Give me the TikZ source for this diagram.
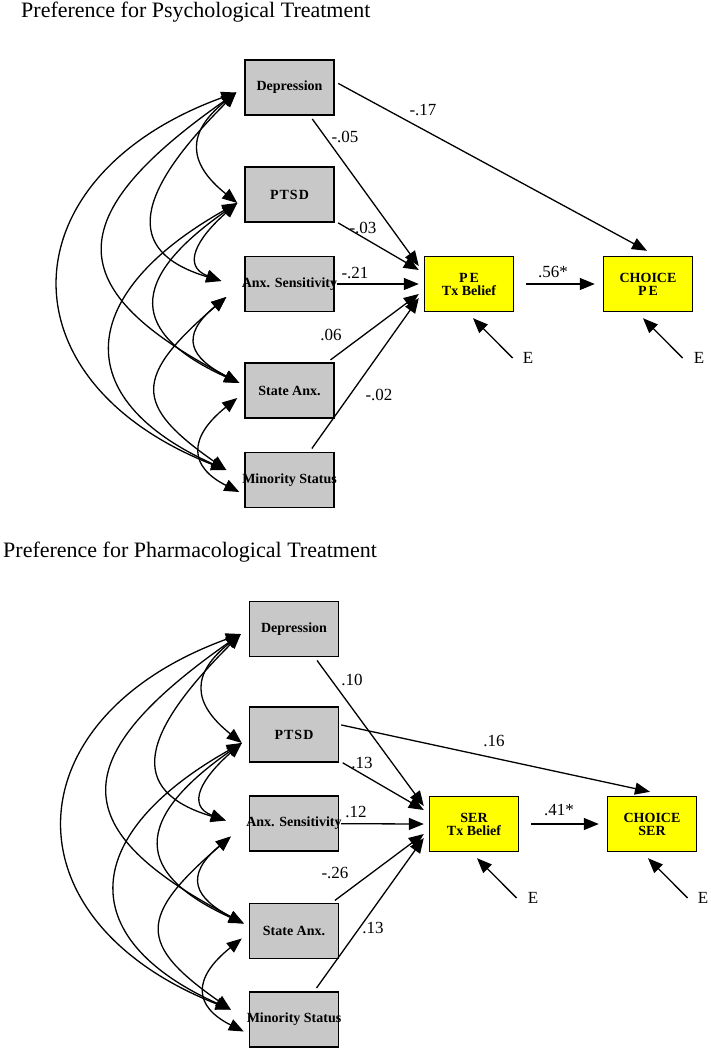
\documentclass[tikz,border=0pt]{standalone}
\usepackage{fontspec}
\setmainfont{Liberation Serif}
\usetikzlibrary{arrows.meta,calc}
\definecolor{boxgray}{RGB}{200,200,200}
\definecolor{boxyellow}{RGB}{255,255,0}
\newcommand\boxfont{\fontsize{14}{14}\selectfont\bfseries}
\newcommand\coeffont{\fontsize{17}{17}\selectfont}
\newcommand\efont{\fontsize{17}{17}\selectfont}
\newcommand\titlefont{\fontsize{22}{22}\selectfont}
\newcommand\lbl[1]{\makebox[0pt][c]{#1}}
% covariance block: #1 = prefix of node names
\newcommand\covblock[1]{%
  \coordinate (#1tD)  at ($(#1dep.west)+(-8,5)$);
  \coordinate (#1tP)  at ($(#1ptsd.west)+(-7,8.5)$);
  \coordinate (#1tA1) at ($(#1anx.west)+(-23,-3)$);
  \coordinate (#1tA2) at ($(#1anx.west)+(-18,13)$);
  \coordinate (#1tS1) at ($(#1sta.west)+(-5,-7.5)$);
  \coordinate (#1tS2) at ($(#1sta.west)+(-7,7.5)$);
  \coordinate (#1tM1) at ($(#1min.west)+(-18,-10)$);
  \coordinate (#1tM2) at ($(#1min.west)+(-5,12)$);
  \draw[cov] (#1tD) .. controls +(-50,40) and +(-50,-40) .. (#1tP);
  \draw[cov] (#1tD) .. controls +(-100,100) and +(-100,-30) .. (#1tA1);
  \draw[cov] (#1tD) .. controls +(-178,125) and +(-178,-93) .. (#1tS1);
  \draw[cov] (#1tD) .. controls +(-229,83) and +(-229,-90) .. (#1tM1);
  \draw[cov] (#1tP) .. controls +(-40,35) and +(-40,-15) .. (#1tA1);
  \draw[cov] (#1tP) .. controls +(-110,77) and +(-110,-50) .. (#1tS1);
  \draw[cov] (#1tP) .. controls +(-160,90) and +(-160,-72) .. (#1tM1);
  \draw[cov] (#1tA2) .. controls +(-48,40) and +(-48,-25) .. (#1tS1);
  \draw[cov] (#1tA2) .. controls +(-93,80) and +(-93,-65) .. (#1tM1);
  \draw[cov] (#1tS2) .. controls +(-50,40) and +(-50,-25) .. (#1tM2);
}
\begin{document}
\begin{tikzpicture}[x=1pt,y=-1pt,
  box/.style={draw=black, line width=1.4pt, fill=boxgray, minimum width=89pt,
    minimum height=55pt, inner sep=0pt, font=\boxfont},
  ybox/.style={box, fill=boxyellow, align=center},
  tip/.tip={Triangle[length=15pt,width=12pt]},
  arr/.style={-tip, line width=1.3pt},
  cov/.style={tip-tip, line width=1.3pt},
  coef/.style={font=\coeffont, inner sep=0pt},
  enode/.style={font=\efont, inner sep=0pt},
  title/.style={font=\titlefont, inner sep=0pt, anchor=base west}]
\useasboundingbox (0,0) rectangle (711,1050);

% ---------------- top: psychological ----------------
\node[title] (ptitle) at (21,17) {Preference for Psychological Treatment};
\node[box] (pdep)  at (289.5,87.5) {\lbl{Depression}};
\node[box] (pptsd) at (289.5,194.5) {\lbl{P\kern1pt T\kern1pt S\kern1pt D}};
\node[box] (panx)  at (289.5,284) {\lbl{Anx. Sensitivity}};
\node[box] (psta)  at (289.5,390.5) {\lbl{State Anx.}};
\node[box] (pmin)  at (289.5,480) {\lbl{Minority Status}};
\node[ybox] (ppe)  at (469,284) {P\kern2pt E\\[-1pt]Tx Belief};
\node[ybox] (pch)  at (648,284) {CHOICE\\[-1pt]P\kern2pt E};
\node[enode] (pe1) at (528,358) {E};
\node[enode] (pe2) at (699,358) {E};

\draw[arr, shorten <=4pt] (pdep)  -- ($(ppe.west)+(-5,-18)$);
\draw[arr, shorten <=4pt] (pptsd) -- ($(ppe.west)+(-5,-14)$);
\draw[arr, shorten <=2pt] (panx)  -- ($(ppe.west)+(-5,0)$);
\draw[arr, shorten <=4pt] (psta)  -- ($(ppe.west)+(-5,10)$);
\draw[arr, shorten <=4pt] (pmin)  -- ($(ppe.west)+(-5,14)$);
\draw[arr, shorten <=4pt] ($(pdep.east)+(0,-6)$) -- ($(pch.north)+(-1,-5)$);
\draw[arr, shorten <=12pt, shorten >=8pt] (ppe) -- (pch);
\draw[arr] ($(pe1.west)+(-10,0)$) -- ($(ppe.south)+(4,6)$);
\draw[arr] ($(pe2.west)+(-11,0)$) -- ($(pch.south)+(-5,6)$);

\node[coef] (pc1) at (423,110) {-.17};
\node[coef] (pc2) at (345,137) {-.05};
\node[coef] (pc3) at (363,228) {-.03};
\node[coef] (pc4) at (355,273) {-.21};
\node[coef] (pc5) at (331,335) {.06};
\node[coef] (pc6) at (379,395) {-.02};
\node[coef] (pc7) at (553,272) {.56*};

\covblock{p}

% ---------------- bottom: pharmacological ----------------
\node[title] (ftitle) at (3,557) {Preference for Pharmacological Treatment};
\node[box] (fdep)  at (294,629) {\lbl{Depression}};
\node[box] (fptsd) at (294,734.5) {\lbl{P\kern1pt T\kern1pt S\kern1pt D}};
\node[box] (fanx)  at (294,823.5) {\lbl{Anx. Sensitivity}};
\node[box] (fsta)  at (294,931) {\lbl{State Anx.}};
\node[box] (fmin)  at (294,1019.5) {\lbl{Minority Status}};
\node[ybox] (fser) at (474,824) {SER\\[-1pt]Tx Belief};
\node[ybox] (fch)  at (652,824) {CHOICE\\[-1pt]SER};
\node[enode] (fe1) at (533,898) {E};
\node[enode] (fe2) at (703,898) {E};

\draw[arr, shorten <=4pt] (fdep)  -- ($(fser.west)+(-5,-18)$);
\draw[arr, shorten <=4pt] (fptsd) -- ($(fser.west)+(-5,-14)$);
\draw[arr, shorten <=2pt] (fanx)  -- ($(fser.west)+(-5,0)$);
\draw[arr, shorten <=4pt] (fsta)  -- ($(fser.west)+(-5,10)$);
\draw[arr, shorten <=4pt] (fmin)  -- ($(fser.west)+(-5,14)$);
\draw[arr, shorten <=2pt] ($(fptsd.east)+(0,-10)$) -- ($(fch.north)+(-2,-4)$);
\draw[arr, shorten <=12pt, shorten >=8pt] (fser) -- (fch);
\draw[arr] ($(fe1.west)+(-11,0)$) -- ($(fser.south)+(3,6)$);
\draw[arr] ($(fe2.west)+(-10,0)$) -- ($(fch.south)+(-4,6)$);

\node[coef] (fc1) at (352,680) {.10};
\node[coef] (fc2) at (494,741) {.16};
\node[coef] (fc3) at (362,763) {.13};
\node[coef] (fc4) at (356,812) {.12};
\node[coef] (fc5) at (335,873) {-.26};
\node[coef] (fc6) at (373,928) {.13};
\node[coef] (fc7) at (559,810) {.41*};

\covblock{f}
\end{tikzpicture}
\end{document}
